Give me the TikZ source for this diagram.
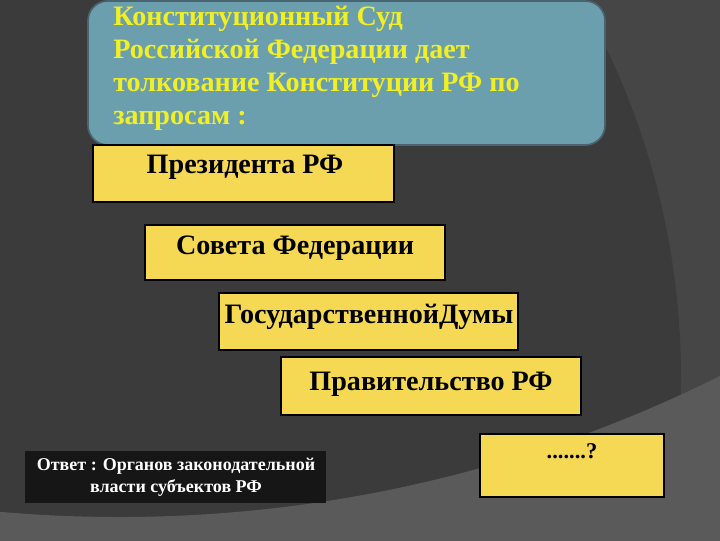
\documentclass[tikz,border=0pt]{standalone}
\usepackage{fontspec}
\setmainfont{Liberation Serif}
\usetikzlibrary{positioning}
\definecolor{fondark}{HTML}{3B3B3B}
\definecolor{fonmid}{HTML}{464646}
\definecolor{fonlight}{HTML}{5A5A5A}
\definecolor{sudblue}{HTML}{6B9FAE}
\definecolor{sudedge}{HTML}{48646E}
\definecolor{sudtext}{HTML}{F2F024}
\definecolor{zapyellow}{HTML}{F5D954}
\definecolor{otvetbg}{HTML}{161616}
\tikzset{
  zapbox/.style={draw=black, fill=zapyellow, line width=0.8pt},
  zaptext/.style={font=\bfseries\fontsize{20}{23}\selectfont, text=black, inner sep=0pt},
  sudtxt/.style={font=\bfseries\fontsize{20}{23.4}\selectfont, text=sudtext, align=left, inner sep=0pt},
  otvettxt/.style={font=\bfseries\fontsize{12.8}{15.6}\selectfont, text=white, align=center, inner sep=0pt}
}
\begin{document}
\begin{tikzpicture}[x=0.025cm, y=-0.025cm]
    \useasboundingbox (0,0) rectangle (720,540);
    % background
    \begin{scope}
        \clip (0,0) rectangle (720,540);
        \fill[fonmid] (0,0) rectangle (720,540);
        \fill[fondark] (-82,378) circle (763);
        \fill[fonlight, even odd rule] (-20,-20) rectangle (740,560) (119,-831) circle (1348);
    \end{scope}
    % title
    \draw[sudedge, fill=sudblue, line width=1.2pt, rounded corners=14pt] (88,1) rectangle (605,145);
    \node[sudtxt, anchor=north west] (sud) at (113,6) {Конституционный Суд\\Российской Федерации дает\\толкование Конституции РФ по\\запросам :};
    % boxes
    \draw[zapbox] (93,145) rectangle (394,202);
    \node[zaptext] (prez) at (245,167) {Президента РФ};
    \draw[zapbox] (145,225) rectangle (445,280);
    \node[zaptext] (sovfed) at (295,248) {Совета Федерации};
    \draw[zapbox] (219,293) rectangle (518,350);
    \node[zaptext] (gosduma) at (369,317) {ГосударственнойДумы};
    \draw[zapbox] (281,357) rectangle (581,415);
    \node[zaptext] (prav) at (431,384) {Правительство РФ};
    \draw[zapbox] (480,434) rectangle (664,497);
    \node[zaptext, font=\bfseries\fontsize{16}{18}\selectfont] (vopros) at (572,451) {.......?};
    % answer
    \fill[otvetbg] (25,451) rectangle (326,503);
    \node[otvettxt] (otvet) at (176,477) {Ответ : Органов законодательной\\власти субъектов РФ};
\end{tikzpicture}
\end{document}
